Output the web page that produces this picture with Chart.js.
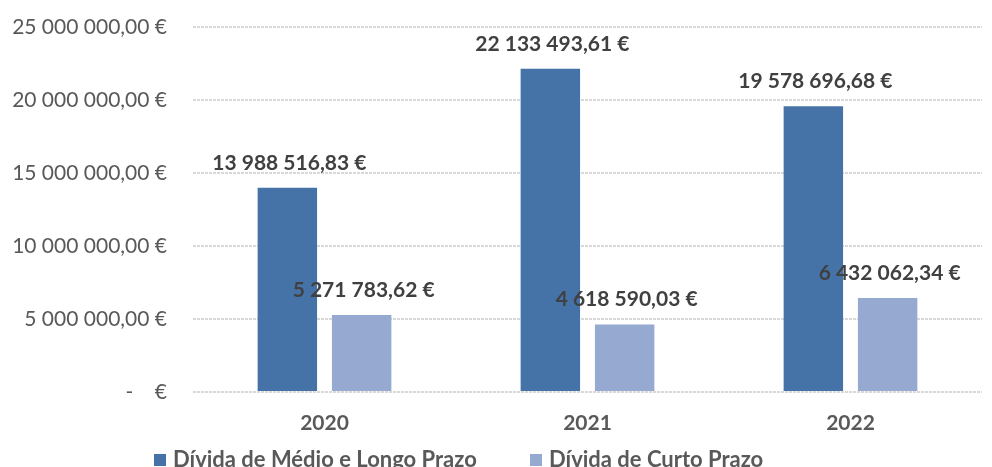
<!DOCTYPE html>
<html>
<head>
<meta charset="utf-8">
<script src="https://cdn.jsdelivr.net/npm/chart.js@4"></script>
<style>
html,body{margin:0;padding:0;background:#fff;}
canvas{display:block;}
</style>
</head>
<body>
<canvas id="c" width="992" height="467"></canvas>
<script>
const categories = ['2020', '2021', '2022'];
const seriesNames = ['Dívida de Médio e Longo Prazo', 'Dívida de Curto Prazo'];
const medioLongoPrazo = [13988516.83, 22133493.61, 19578696.68];
const curtoPrazo = [5271783.62, 4618590.03, 6432062.34];
const yTicks = [0, 5000000, 10000000, 15000000, 20000000, 25000000];
const colors = ['#4673a7', '#95a9d1'];

function fmt(v) {
  const parts = v.toFixed(2).split('.');
  const intPart = parts[0].replace(/\B(?=(\d{3})+(?!\d))/g, ' ');
  return intPart + ',' + parts[1] + ' €';
}

const FONT = 'Lato, "Open Sans", sans-serif';

const dataLabels = {
  id: 'dataLabels',
  afterDatasetsDraw(chart) {
    const ctx = chart.ctx;
    ctx.save();
    ctx.font = 'bold 21px ' + FONT;
    ctx.fillStyle = '#404040';
    ctx.textAlign = 'center';
    ctx.textBaseline = 'middle';
    chart.data.datasets.forEach((ds, i) => {
      const meta = chart.getDatasetMeta(i);
      meta.data.forEach((bar, j) => {
        ctx.fillText(fmt(ds.data[j]), bar.x + 2, bar.y - 25);
      });
    });
    ctx.restore();
  }
};

const customLegend = {
  id: 'customLegend',
  afterDraw(chart) {
    const ctx = chart.ctx;
    const xs = [154, 530];
    ctx.save();
    ctx.font = 'bold 22px ' + FONT;
    ctx.textBaseline = 'middle';
    ctx.textAlign = 'left';
    chart.data.datasets.forEach((ds, i) => {
      ctx.fillStyle = ds.backgroundColor;
      ctx.fillRect(xs[i], 454, 12, 12);
      ctx.fillStyle = '#595959';
      ctx.fillText(ds.label, xs[i] + 19, 460);
    });
    ctx.restore();
  }
};

new Chart(document.getElementById('c'), {
  type: 'bar',
  data: {
    labels: categories,
    datasets: [
      { label: seriesNames[0], data: medioLongoPrazo, backgroundColor: colors[0], categoryPercentage: 0.565, barPercentage: 0.8 },
      { label: seriesNames[1], data: curtoPrazo, backgroundColor: colors[1], categoryPercentage: 0.565, barPercentage: 0.8 }
    ]
  },
  options: {
    responsive: false,
    animation: false,
    devicePixelRatio: 1,
    layout: { padding: { top: 27, right: 10, left: 0, bottom: 25 } },
    plugins: {
      legend: { display: false },
      tooltip: { enabled: false }
    },
    scales: {
      x: {
        grid: { display: false, drawTicks: false },
        border: { display: false },
        ticks: { font: { family: FONT, size: 21, weight: 'bold' }, color: '#595959', padding: 19 },
        afterFit(s) { s.height = 50; s.paddingLeft = 0; s.paddingRight = 0; }
      },
      y: {
        min: 0,
        max: 25000000,
        afterBuildTicks(s) { s.ticks = yTicks.map(v => ({ value: v })); },
        grid: { color: '#d9d9d9', lineWidth: 2, drawTicks: false },
        border: { display: false, dash: [3, 1] },
        ticks: {
          font: { family: FONT, size: 21 },
          color: '#595959',
          padding: 26,
          callback(v) { return v === 0 ? '-    €' : fmt(v); }
        },
        afterFit(s) { s.width = 193; s.paddingTop = 0; s.paddingBottom = 0; }
      }
    }
  },
  plugins: [dataLabels, customLegend]
});
</script>
</body>
</html>
